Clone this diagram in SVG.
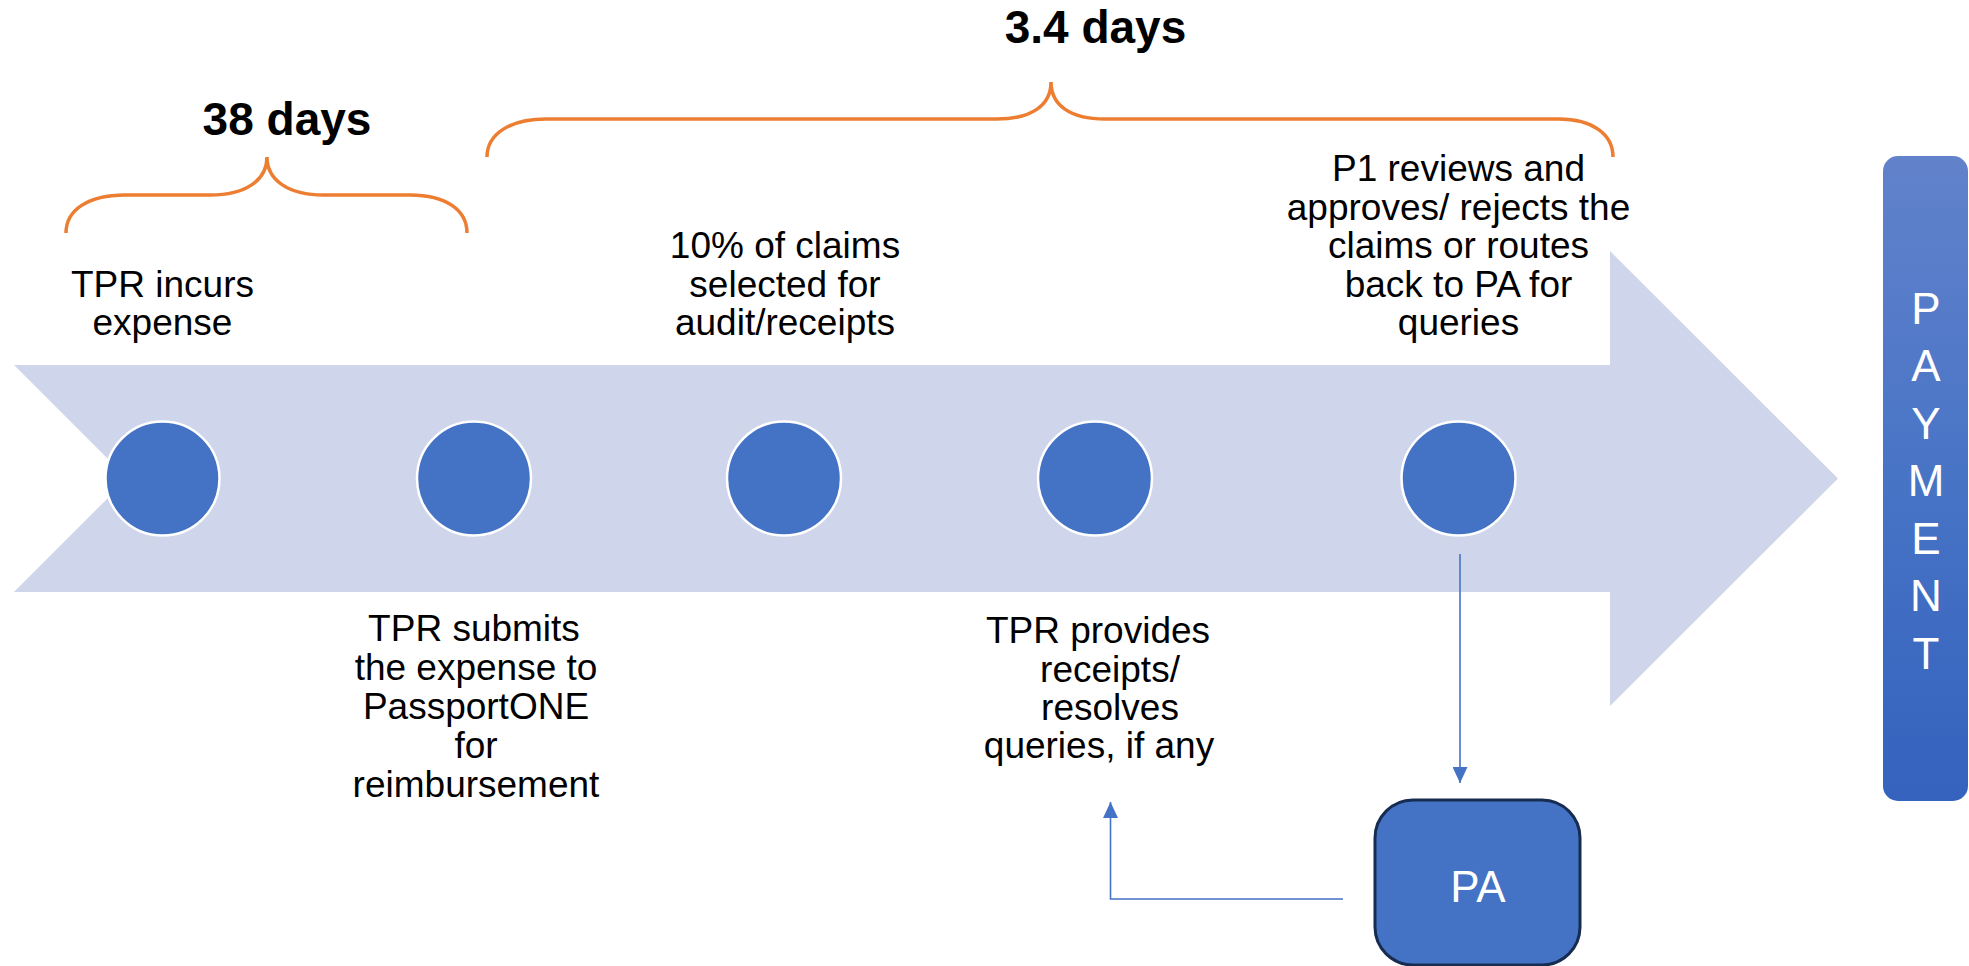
<svg xmlns="http://www.w3.org/2000/svg" width="1969" height="966" viewBox="0 0 1969 966">
  <style>
    .lbl { font-family: "Liberation Sans", Arial, sans-serif; font-size: 37px; fill: #000; text-anchor: middle; }
    .dur { font-family: "Liberation Sans", Arial, sans-serif; font-size: 46px; font-weight: bold; fill: #000; text-anchor: middle; }
    .brace { fill: none; stroke: #ED7D31; stroke-width: 3.5; stroke-linecap: butt; }
    .dot { fill: #4472C4; stroke: #FFFFFF; stroke-width: 2.5; }
    .link { fill: none; stroke: #4472C4; stroke-width: 1.6; }
    .white { font-family: "Liberation Sans", Arial, sans-serif; font-size: 44px; fill: #FFFFFF; text-anchor: middle; }
  </style>
  <defs>
    <linearGradient id="payGrad" x1="0" y1="0" x2="0" y2="1">
      <stop offset="0" stop-color="#6282CB"/>
      <stop offset="0.5" stop-color="#4874C6"/>
      <stop offset="1" stop-color="#3462BD"/>
    </linearGradient>
    <marker id="tip" viewBox="0 0 16 15" refX="16" refY="7.5" markerWidth="16" markerHeight="15" markerUnits="userSpaceOnUse" orient="auto">
      <path d="M0,0 L16,7.5 L0,15 Z" fill="#4472C4"/>
    </marker>
  </defs>

  <rect width="1969" height="966" fill="#FFFFFF"/>

  <!-- timeline arrow -->
  <polygon id="timeline" points="14,365 1610,365 1610,251 1838,478.5 1610,706 1610,592 14,592 127.5,478.5" fill="#CFD5EA"/>

  <!-- duration braces -->
  <g id="brace-38">
    <path class="brace" d="M66,233 C66,210 88,195 125,195 L210,195 C246,195 267,180 267,157 C267,180 288,195 324,195 L410,195 C446,195 467,210 467,233"/>
    <text class="dur" x="287" y="135">38 days</text>
  </g>
  <g id="brace-3-4">
    <path class="brace" d="M487,157 C487,134 510,119 546,119 L997,119 C1032,119 1051,105 1051,82 C1051,105 1070,119 1105,119 L1559,119 C1592,119 1613,134 1613,157"/>
    <text class="dur" x="1095.5" y="43">3.4 days</text>
  </g>

  <!-- steps -->
  <g id="step-incur">
    <circle class="dot" cx="162.5" cy="478.5" r="57"/>
    <text class="lbl" x="162.5" y="297">TPR incurs</text>
    <text class="lbl" x="162.5" y="335">expense</text>
  </g>
  <g id="step-submit">
    <circle class="dot" cx="474" cy="478.5" r="57"/>
    <text class="lbl" x="474" y="641">TPR submits</text>
    <text class="lbl" x="476" y="680">the expense to</text>
    <text class="lbl" x="476" y="719">PassportONE</text>
    <text class="lbl" x="476" y="758">for</text>
    <text class="lbl" x="476" y="797">reimbursement</text>
  </g>
  <g id="step-audit">
    <circle class="dot" cx="784" cy="478.5" r="57"/>
    <text class="lbl" x="785" y="258">10% of claims</text>
    <text class="lbl" x="785" y="297">selected for</text>
    <text class="lbl" x="785" y="335">audit/receipts</text>
  </g>
  <g id="step-receipts">
    <circle class="dot" cx="1095" cy="478.5" r="57"/>
    <text class="lbl" x="1098" y="643">TPR provides</text>
    <text class="lbl" x="1110" y="682">receipts/</text>
    <text class="lbl" x="1110" y="720">resolves</text>
    <text class="lbl" x="1099" y="758">queries, if any</text>
  </g>
  <g id="step-review">
    <circle class="dot" cx="1458.5" cy="478.5" r="57"/>
    <text class="lbl" x="1458.5" y="181">P1 reviews and</text>
    <text class="lbl" x="1458.5" y="219.5">approves/ rejects the</text>
    <text class="lbl" x="1458.5" y="258">claims or routes</text>
    <text class="lbl" x="1458.5" y="296.5">back to PA for</text>
    <text class="lbl" x="1458.5" y="335">queries</text>
  </g>

  <!-- PA node -->
  <g id="node-pa">
    <rect x="1375" y="800" width="205" height="165" rx="38" ry="38" fill="#4472C4" stroke="#172C51" stroke-width="3"/>
    <text class="white" x="1478" y="902">PA</text>
  </g>

  <!-- payment bar -->
  <g id="node-payment">
    <rect x="1883" y="156" width="85" height="645" rx="15" ry="15" fill="url(#payGrad)"/>
    <text class="white" x="1926" y="323.5">P</text>
    <text class="white" x="1926" y="381">A</text>
    <text class="white" x="1926" y="438.5">Y</text>
    <text class="white" x="1926" y="496">M</text>
    <text class="white" x="1926" y="553.5">E</text>
    <text class="white" x="1926" y="611">N</text>
    <text class="white" x="1926" y="668.5">T</text>
  </g>

  <!-- connectors -->
  <g id="connectors">
    <path class="link" d="M1460,554 L1460,783" marker-end="url(#tip)"/>
    <path class="link" d="M1343,899 L1110.5,899 L1110.5,802" marker-end="url(#tip)"/>
  </g>
</svg>
